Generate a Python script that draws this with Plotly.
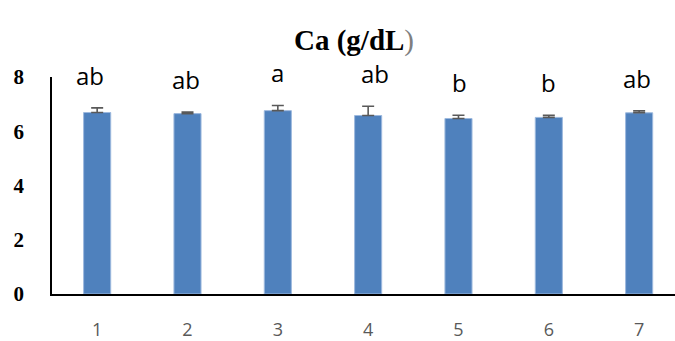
import plotly.graph_objects as go

categories = ["1", "2", "3", "4", "5", "6", "7"]
ca_means = [6.69, 6.65, 6.76, 6.58, 6.47, 6.51, 6.68]
ca_errors = [0.17, 0.06, 0.19, 0.34, 0.12, 0.08, 0.07]
sig_letters = ["ab", "ab", "a", "ab", "b", "b", "ab"]
y_ticks = [0, 2, 4, 6, 8]

# layout tweaks for the significance letters (pixels)
letter_xshift = [-7, -2, 0, 7, 1, 0, -2]
letter_gap = 0.74

x_pos = list(range(1, len(categories) + 1))

fig = go.Figure()
fig.add_trace(go.Bar(
    x=x_pos,
    y=ca_means,
    width=0.30,
    marker=dict(color="#4F81BD", line=dict(color="#9DB9DE", width=1)),
    error_y=dict(type="data", array=ca_errors, arrayminus=[0] * len(ca_errors),
                 symmetric=False, color="#595959", thickness=1.6, width=6),
    hoverinfo="skip",
))

for i, (x, m, e, lab) in enumerate(zip(x_pos, ca_means, ca_errors, sig_letters)):
    fig.add_annotation(
        x=x, y=m + e + letter_gap, xref="x", yref="y",
        text=lab, showarrow=False, xanchor="center", yanchor="bottom",
        xshift=letter_xshift[i], yshift=-6,
        font=dict(family="Open Sans", size=24, color="#000000"),
    )

fig.update_layout(
    width=675, height=341,
    margin=dict(l=52, r=0, t=77, b=44),
    paper_bgcolor="white", plot_bgcolor="white",
    showlegend=False,
    title=dict(
        text="<b>Ca (g/dL</b><span style='color:#7f7f7f'>)</span>",
        x=354 / 675, xanchor="center", xref="container",
        y=1 - 40 / 341, yanchor="middle", yref="container",
        font=dict(family="Liberation Serif", size=29, color="#000000"),
    ),
)
fig.update_xaxes(
    range=[0.5, 0.5 + (675 - 52) / 90.33],
    tickmode="array", tickvals=x_pos, ticktext=categories,
    showline=True, linecolor="black", linewidth=1.5,
    showgrid=False, zeroline=False, ticks="",
    ticklabelstandoff=19,
    tickfont=dict(family="Open Sans", size=18, color="#595959"),
)
fig.update_yaxes(
    range=[0, 8],
    tickmode="array", tickvals=y_ticks,
    ticktext=["<b>%d</b>" % v for v in y_ticks],
    showline=True, linecolor="black", linewidth=1.5,
    showgrid=False, zeroline=False, ticks="",
    ticklabelstandoff=22,
    tickfont=dict(family="Liberation Serif", size=21, color="#000000"),
)

fig.write_html(
    "out.html",
    config={"displayModeBar": False},
    post_script="document.body.style.margin='0';document.body.style.padding='0';",
)
